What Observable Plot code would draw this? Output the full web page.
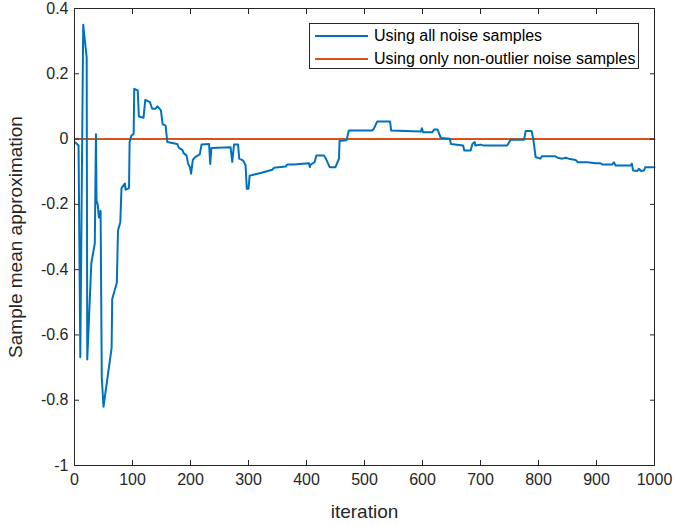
<!DOCTYPE html>
<html>
<head>
<meta charset="utf-8">
<script src="https://cdn.jsdelivr.net/npm/d3@7"></script>
<script src="https://cdn.jsdelivr.net/npm/@observablehq/plot@0.6"></script>
<style>
  html, body { margin: 0; padding: 0; background: #fff; }
  #wrap { position: relative; width: 675px; height: 525px; font-family: "Liberation Sans", Arial, sans-serif; }
  #legend { position: absolute; left: 309px; top: 23px; width: 330px; height: 46px; border: 1px solid #262626; background: #fff; box-sizing: border-box; }
  .row { position: absolute; left: 0; height: 20px; display: flex; align-items: center; font-size: 16px; color: #000; white-space: nowrap; }
  .sw { width: 53px; height: 0; border-top: 2px solid; margin-left: 5px; margin-right: 6px; }
</style>
</head>
<body>
<div id="wrap"></div>
<script>
const seriesNames = ["Using all noise samples", "Using only non-outlier noise samples"];
const seriesColors = ["#0072BD", "#D95319"];

const allIter = [1, 7, 10, 15, 21, 22, 29, 35, 37, 38, 40, 42, 45, 47, 50, 64, 65, 73, 75, 79, 81, 87, 88, 94, 95, 98, 102, 103, 109, 111, 119, 122, 130, 134, 140, 143, 149, 152, 157, 160, 177, 180, 186, 188, 193, 196, 199, 201, 204, 208, 216, 219, 232, 234, 236, 269, 272, 275, 282, 284, 291, 295, 297, 300, 302, 321, 341, 344, 364, 367, 378, 404, 406, 407, 414, 417, 430, 434, 440, 450, 456, 457, 469, 473, 513, 516, 522, 544, 546, 597, 599, 601, 617, 620, 626, 631, 633, 647, 649, 670, 672, 683, 686, 690, 691, 700, 706, 746, 752, 775, 778, 788, 791, 795, 803, 806, 829, 833, 841, 847, 852, 864, 868, 885, 898, 907, 910, 927, 930, 933, 959, 961, 963, 970, 973, 977, 982, 984, 1000];
const allVal = [-0.01, -0.02, -0.668, 0.35, 0.25, -0.675, -0.38, -0.32, 0.015, -0.19, -0.2, -0.24, -0.22, -0.73, -0.82, -0.64, -0.49, -0.44, -0.28, -0.255, -0.15, -0.136, -0.155, -0.15, -0.01, 0.01, 0.016, 0.154, 0.149, 0.069, 0.065, 0.12, 0.113, 0.093, 0.093, 0.1, 0.088, 0.045, 0.042, -0.009, -0.015, -0.027, -0.033, -0.043, -0.05, -0.076, -0.086, -0.106, -0.064, -0.055, -0.047, -0.017, -0.015, -0.076, -0.027, -0.025, -0.07, -0.017, -0.017, -0.06, -0.066, -0.081, -0.152, -0.152, -0.112, -0.104, -0.094, -0.088, -0.084, -0.078, -0.078, -0.074, -0.086, -0.078, -0.071, -0.05, -0.05, -0.062, -0.086, -0.086, -0.06, -0.006, -0.004, 0.026, 0.026, 0.031, 0.054, 0.054, 0.026, 0.023, 0.033, 0.021, 0.021, 0.029, 0.029, 0.006, 0.003, 0.001, -0.015, -0.02, -0.035, -0.035, -0.015, -0.009, -0.02, -0.017, -0.02, -0.02, -0.002, -0.002, 0.025, 0.025, 0.001, -0.055, -0.06, -0.053, -0.053, -0.057, -0.06, -0.057, -0.06, -0.064, -0.071, -0.071, -0.074, -0.074, -0.078, -0.078, -0.071, -0.081, -0.081, -0.075, -0.096, -0.098, -0.091, -0.098, -0.096, -0.086, -0.086];

const inlierIter = [1, 1000];
const inlierVal = [0, 0];

const xTicks = [0, 100, 200, 300, 400, 500, 600, 700, 800, 900, 1000];
const yTicks = [0.4, 0.2, 0, -0.2, -0.4, -0.6, -0.8, -1];

const allData = allIter.map((x, i) => ({x, y: allVal[i]}));
const inlierData = inlierIter.map((x, i) => ({x, y: inlierVal[i]}));

const axisColor = "#262626";
const fmtX = d => String(d);
const fmtY = d => (d === 0 ? "0" : String(+d.toFixed(1))).replace("−", "-");

const chart = Plot.plot({
  width: 675,
  height: 525,
  marginLeft: 74,
  marginRight: 21,
  marginTop: 8,
  marginBottom: 60,
  style: {fontFamily: "'Liberation Sans', Arial, sans-serif", fontSize: "16px", color: axisColor, background: "#fff"},
  x: {domain: [0, 1000]},
  y: {domain: [-1, 0.4]},
  marks: [
    Plot.line(inlierData, {x: "x", y: "y", stroke: seriesColors[1], strokeWidth: 2}),
    Plot.line(allData, {x: "x", y: "y", stroke: seriesColors[0], strokeWidth: 2}),
    Plot.axisX({ticks: xTicks, tickSize: -5, tickPadding: 13, tickFormat: fmtX, fontSize: 16, stroke: axisColor, fill: axisColor, label: "iteration", labelAnchor: "center", labelOffset: 52, labelArrow: "none"}),
    Plot.axisX({ticks: xTicks, anchor: "top", tickSize: -5, tickFormat: () => "", label: null, stroke: axisColor}),
    Plot.axisY({ticks: yTicks, tickSize: -5, tickPadding: 11, tickFormat: fmtY, fontSize: 16, stroke: axisColor, fill: axisColor, label: "Sample mean approximation", labelAnchor: "center", labelOffset: 66, labelArrow: "none"}),
    Plot.axisY({ticks: yTicks, anchor: "right", tickSize: -5, tickFormat: () => "", label: null, stroke: axisColor}),
    Plot.frame({stroke: axisColor, strokeWidth: 1})
  ]
});

chart.querySelectorAll("g[aria-label='x-axis label'] text, g[aria-label='y-axis label'] text").forEach(t => t.setAttribute("font-size", "19"));

const wrap = document.getElementById("wrap");
wrap.appendChild(chart);

const legend = document.createElement("div");
legend.id = "legend";
seriesNames.forEach((name, i) => {
  const row = document.createElement("div");
  row.className = "row";
  row.style.top = (i === 0 ? 2 : 25) + "px";
  const sw = document.createElement("div");
  sw.className = "sw";
  sw.style.borderTopColor = seriesColors[i];
  const tx = document.createElement("span");
  tx.textContent = name;
  row.appendChild(sw);
  row.appendChild(tx);
  legend.appendChild(row);
});
wrap.appendChild(legend);
</script>
</body>
</html>
